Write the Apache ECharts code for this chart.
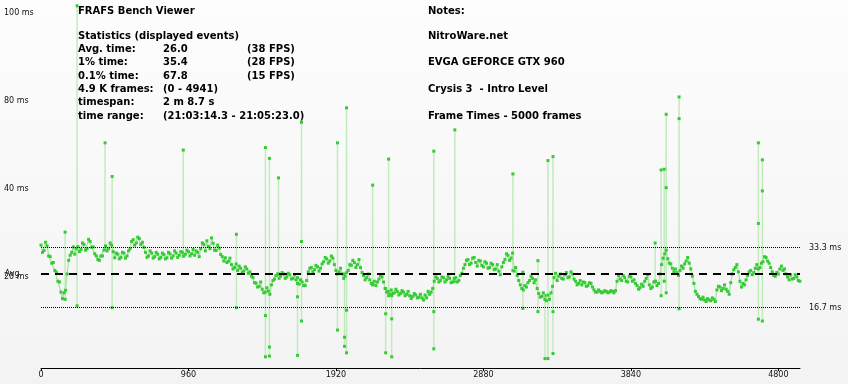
<!DOCTYPE html>
<html><head><meta charset="utf-8">
<script src="https://cdn.jsdelivr.net/npm/echarts@6/dist/echarts.min.js"></script>
<style>html,body{margin:0;padding:0;background:#fff}#c{width:848px;height:384px}</style>
</head><body><div id="c"></div>
<script>
// ---- data ----
const sampleStep = 20; // frames between trace samples
const sampleOffsetB = 10; // second trace sample set sits between the first
const frameTimes = [
34.0, 32.5, 33.8, 30.8, 29.2, 26.5, 23.8, 19.2, 21.5, 29.8,
32.0, 31.5, 33.6, 32.8, 34.2, 33.0, 35.0, 33.5, 31.0, 29.8,
31.0, 33.8, 33.0, 34.0, 30.5, 31.5, 30.6, 31.8, 31.0, 33.0,
35.5, 34.6, 35.8, 34.8, 32.0, 31.0, 31.8, 30.8, 31.5, 30.6,
31.4, 30.5, 31.6, 31.0, 31.8, 31.2, 32.0, 31.5, 32.2, 31.6,
31.2, 32.0, 33.0, 34.2, 35.2, 33.0, 34.5, 32.5, 33.2, 30.8,
30.5, 29.5, 28.6, 27.8, 27.0, 27.6, 26.8, 27.4, 26.6, 25.0,
23.5, 22.6, 21.8, 21.0, 21.3, 23.0, 24.6, 26.0, 25.4, 26.0,
25.2, 25.8, 24.8, 24.4, 23.2, 23.8, 22.8, 26.6, 27.8, 27.2,
28.0, 27.6, 29.4, 30.2, 29.6, 30.4, 27.0, 26.6, 26.0, 25.4,
27.0, 28.4, 29.2, 28.6, 27.8, 25.6, 25.0, 24.4, 23.2, 22.8,
24.6, 25.2, 22.0, 21.2, 21.6, 20.8, 21.2, 20.6, 21.0, 20.4,
20.0, 19.8, 20.2, 19.6, 19.4, 20.2, 21.2, 21.0, 24.0, 24.8,
24.2, 25.0, 24.4, 24.8, 23.8, 25.0, 24.2, 26.2, 28.6, 30.0,
29.0, 30.6, 28.2, 29.6, 28.0, 29.0, 27.8, 28.6, 27.4, 26.8,
28.0, 30.0, 31.2, 30.4, 26.8, 25.6, 23.0, 21.6, 22.4, 24.2,
24.8, 24.4, 20.6, 19.8, 19.0, 20.2, 20.8, 25.0, 24.2, 26.0,
24.6, 26.4, 25.2, 26.0, 24.0, 23.4, 23.0, 23.6, 22.8, 23.4,
21.6, 21.0, 21.2, 21.0, 21.2, 21.0, 21.2, 21.4, 25.6, 24.2,
25.0, 23.8, 25.2, 24.4, 22.8, 22.2, 22.6, 24.8, 23.0, 22.4,
24.0, 23.4, 28.6, 31.6, 30.2, 28.8, 26.6, 26.4, 27.0, 27.6,
29.6, 29.0, 25.4, 21.2, 19.8, 19.0, 18.8, 19.2, 18.6, 19.0,
21.6, 22.4, 22.0, 21.8, 20.4, 26.0, 27.8, 26.6, 22.4, 23.0,
25.6, 27.0, 26.4, 28.6, 27.8, 29.4, 30.6, 29.0, 26.6, 25.4,
26.0, 28.2, 27.4, 25.2, 25.8, 24.8, 25.2, 24.0
];
const frameTimesB = [
32.0, 34.8, 31.0, 29.0, 27.0, 24.0, 21.0, 20.8, 26.0, 31.2,
33.5, 33.0, 32.2, 34.6, 32.6, 35.6, 33.4, 31.6, 30.0, 31.0,
32.6, 32.4, 34.6, 32.2, 31.8, 30.2, 32.0, 30.4, 32.4, 35.0,
34.0, 36.2, 34.2, 33.4, 30.6, 32.4, 30.4, 32.0, 30.2, 31.8,
30.2, 32.0, 30.4, 32.4, 30.6, 32.2, 31.0, 32.6, 31.0, 32.8,
32.4, 30.8, 34.6, 32.4, 33.6, 36.0, 32.6, 34.0, 31.4, 29.6,
29.2, 30.4, 27.4, 28.8, 28.2, 26.4, 28.0, 26.2, 25.4, 23.6,
22.4, 23.8, 20.8, 22.2, 20.4, 24.2, 25.6, 24.8, 26.4, 24.8,
26.2, 24.6, 25.8, 23.4, 24.4, 22.8, 24.2, 27.6, 26.6, 28.4,
26.8, 28.8, 30.6, 29.0, 31.0, 28.6, 26.0, 27.6, 24.8, 26.4,
28.6, 29.8, 27.8, 30.0, 26.4, 24.4, 26.0, 23.4, 24.0, 23.8,
25.6, 23.8, 21.0, 20.4, 20.6, 21.8, 20.2, 21.4, 20.0, 21.2,
19.2, 20.6, 19.4, 20.4, 18.8, 19.4, 20.4, 22.0, 25.2, 23.8,
25.2, 23.8, 25.4, 23.6, 24.8, 23.8, 25.6, 27.6, 29.8, 28.6,
30.4, 29.2, 29.8, 28.4, 29.4, 27.6, 29.0, 27.2, 28.6, 25.8,
29.2, 31.6, 29.8, 31.8, 27.8, 24.2, 22.0, 22.8, 23.6, 25.4,
23.6, 22.0, 19.6, 20.8, 18.6, 19.0, 22.6, 26.2, 25.4, 24.8,
25.8, 25.0, 26.6, 24.6, 23.0, 24.2, 23.8, 22.6, 23.6, 22.4,
21.0, 21.6, 20.8, 21.4, 20.8, 21.4, 20.8, 24.0, 24.6, 25.6,
24.0, 25.4, 24.0, 23.4, 21.8, 23.2, 24.0, 25.8, 22.0, 23.8,
22.8, 26.0, 30.4, 32.6, 29.0, 27.6, 27.4, 25.6, 28.2, 28.8,
30.6, 27.4, 23.4, 20.4, 19.2, 19.6, 18.4, 18.8, 19.4, 18.4,
22.6, 21.4, 23.0, 21.2, 23.6, 27.2, 28.6, 24.0, 23.4, 24.4,
26.6, 25.8, 27.6, 27.4, 29.0, 30.8, 29.6, 27.8, 25.6, 26.4,
27.4, 27.0, 26.0, 24.4, 24.6, 25.8, 24.2
];
const spikeFrames = [157, 235, 417, 463, 926, 1272, 1461, 1487, 1546, 1670, 1696, 1930, 1976, 1989, 2159, 2244, 2263, 2283, 2557, 2694, 3072, 3137, 3235, 3281, 3300, 3333, 3998, 4037, 4057, 4070, 4154, 4670, 4696];
const spikeHigh   = [37.6, 100.2, 62.3, 53.0, 60.3, 37.0, 61.0, 58.0, 52.6, 25.0, 68.0, 62.3, 26.0, 72.0, 50.6, 22.0, 57.8, 20.0, 60.0, 65.9, 53.7, 26.5, 29.7, 20.0, 57.4, 58.5, 34.6, 54.8, 55.0, 70.2, 75.0, 62.3, 57.6];
const spikeMid    = [null, null, null, null, null, null, 14.5, 5.8, null, 19.7, 35.0, null, 8.5, 16.0, null, 15.0, null, 13.6, 15.6, null, null, null, null, null, null, 15.6, null, null, null, 49.9, 69.0, 40.0, 49.0];
const spikeLow    = [19.0, 17.2, 33.0, 16.7, 31.0, 16.7, 3.1, 3.3, 26.0, 3.5, 13.0, 10.5, 6.0, 4.2, 23.0, 4.2, 20.0, 3.1, 5.3, 24.0, 27.0, 16.5, 15.6, 2.6, 2.6, 4.0, 24.0, 20.0, 24.0, 20.8, 16.4, 13.5, 13.0];

const frameCount = 4941;
const xTickInterval = 960;
const yTickLabels = ['', '20 ms', '40 ms', '80 ms', '100 ms'];
const avgTime = 26.0;
const refLines = [33.3, 16.7];
const refLabels = ['33.3 ms', '16.7 ms'];

const title = 'FRAFS Bench Viewer';
const statsHeader = 'Statistics (displayed events)';
const statLabels = ['Avg. time:', '1% time:', '0.1% time:', '4.9 K frames:', 'timespan:', 'time range:'];
const statValues = ['26.0', '35.4', '67.8', '(0 - 4941)', '2 m 8.7 s', '(21:03:14.3 - 21:05:23.0)'];
const statFps = ['(38 FPS)', '(28 FPS)', '(15 FPS)', '', '', ''];
const notesHeader = 'Notes:';
const notes = ['NitroWare.net', 'EVGA GEFORCE GTX 960', 'Crysis 3  - Intro Level', 'Frame Times - 5000 frames'];

// ---- build ----
const traceData = [];
frameTimes.forEach((v, i) => {
  traceData.push([i * sampleStep, v]);
  if (i < frameTimesB.length) traceData.push([i * sampleStep + sampleOffsetB, frameTimesB[i]]);
});
const spikeData = [];
spikeFrames.forEach((f, k) => {
  spikeData.push([f, spikeHigh[k]]);
  if (spikeMid[k] != null) spikeData.push([f, spikeMid[k]]);
  spikeData.push([f, spikeLow[k]]);
  spikeData.push([f, '-']);
});

const boldFont = 'bold 10px "DejaVu Sans"';
const smallFont = '"DejaVu Sans"';
const graphics = [];
function addText(t, x, y) {
  graphics.push({type: 'text', x: x, y: y, z: 20,
    style: {text: t, font: boldFont, fill: '#000', verticalAlign: 'middle', align: 'left'}});
}
addText(title, 78, 11);
addText(statsHeader, 78, 36);
statLabels.forEach((t, i) => {
  const y = 49.3 + i * 13.33;
  addText(t, 78, y);
  addText(statValues[i], 163, y);
  if (statFps[i]) addText(statFps[i], 247, y);
});
addText(notesHeader, 428, 11);
notes.forEach((t, i) => addText(t, 428, 36 + i * 26.67));

const chart = echarts.init(document.getElementById('c'));
chart.setOption({
  animation: false,
  backgroundColor: new echarts.graphic.LinearGradient(0, 0, 0, 1, [
    {offset: 0, color: '#fdfdfd'}, {offset: 1, color: '#f3f3f3'}]),
  grid: [
    {left: 41, right: 48, top: 6.6, bottom: 16},
    {left: 41, right: 48, top: 13.3, bottom: 19.5}
  ],
  xAxis: [
    {type: 'value', gridIndex: 0, min: 0, max: frameCount, interval: xTickInterval,
     axisLine: {show: true, lineStyle: {color: '#000', width: 1}},
     axisTick: {show: true, length: 3, lineStyle: {color: '#000'}},
     axisLabel: {show: true, showMaxLabel: false, color: '#111', fontFamily: smallFont, fontSize: 8, margin: 3,
       formatter: v => String(v)},
     splitLine: {show: false}},
    {type: 'value', gridIndex: 1, min: 0, max: 1, show: false}
  ],
  yAxis: [
    {type: 'value', gridIndex: 0, min: 0, max: 100, show: false, splitLine: {show: false}},
    {type: 'category', gridIndex: 1, data: yTickLabels, boundaryGap: false,
     axisLine: {show: false}, axisTick: {show: false}, splitLine: {show: false},
     axisLabel: {show: true, align: 'left', margin: 37, color: '#111', fontFamily: smallFont, fontSize: 8}}
  ],
  graphic: graphics,
  series: [
    {type: 'line', xAxisIndex: 0, yAxisIndex: 0, data: traceData, clip: false,
     symbol: 'rect', symbolSize: 3, showAllSymbol: true,
     itemStyle: {color: '#33cc33'}, lineStyle: {color: '#a9e3a3', width: 1.3}, z: 3},
    {type: 'line', xAxisIndex: 0, yAxisIndex: 0, data: spikeData, clip: false, connectNulls: false,
     symbol: 'rect', symbolSize: 3, showAllSymbol: true,
     itemStyle: {color: '#33cc33'}, lineStyle: {color: '#c2ebbd', width: 1.5}, z: 2},
    {type: 'line', xAxisIndex: 0, yAxisIndex: 0, data: [], z: 10,
     markLine: {silent: true, symbol: 'none',
       data: [
         {yAxis: refLines[0], lineStyle: {color: '#000', width: 1, type: [1, 1]},
          label: {show: true, position: 'end', distance: 9, formatter: refLabels[0], color: '#111', fontFamily: smallFont, fontSize: 8}},
         {yAxis: refLines[1], lineStyle: {color: '#000', width: 1, type: [1, 1]},
          label: {show: true, position: 'end', distance: 9, formatter: refLabels[1], color: '#111', fontFamily: smallFont, fontSize: 8}},
         {yAxis: avgTime, lineStyle: {color: '#000', width: 2, type: [8, 6]},
          label: {show: true, position: 'start', distance: [19, -2], formatter: 'Avg.', color: '#111', fontFamily: smallFont, fontSize: 8}}
       ]}}
  ]
});
</script></body></html>
